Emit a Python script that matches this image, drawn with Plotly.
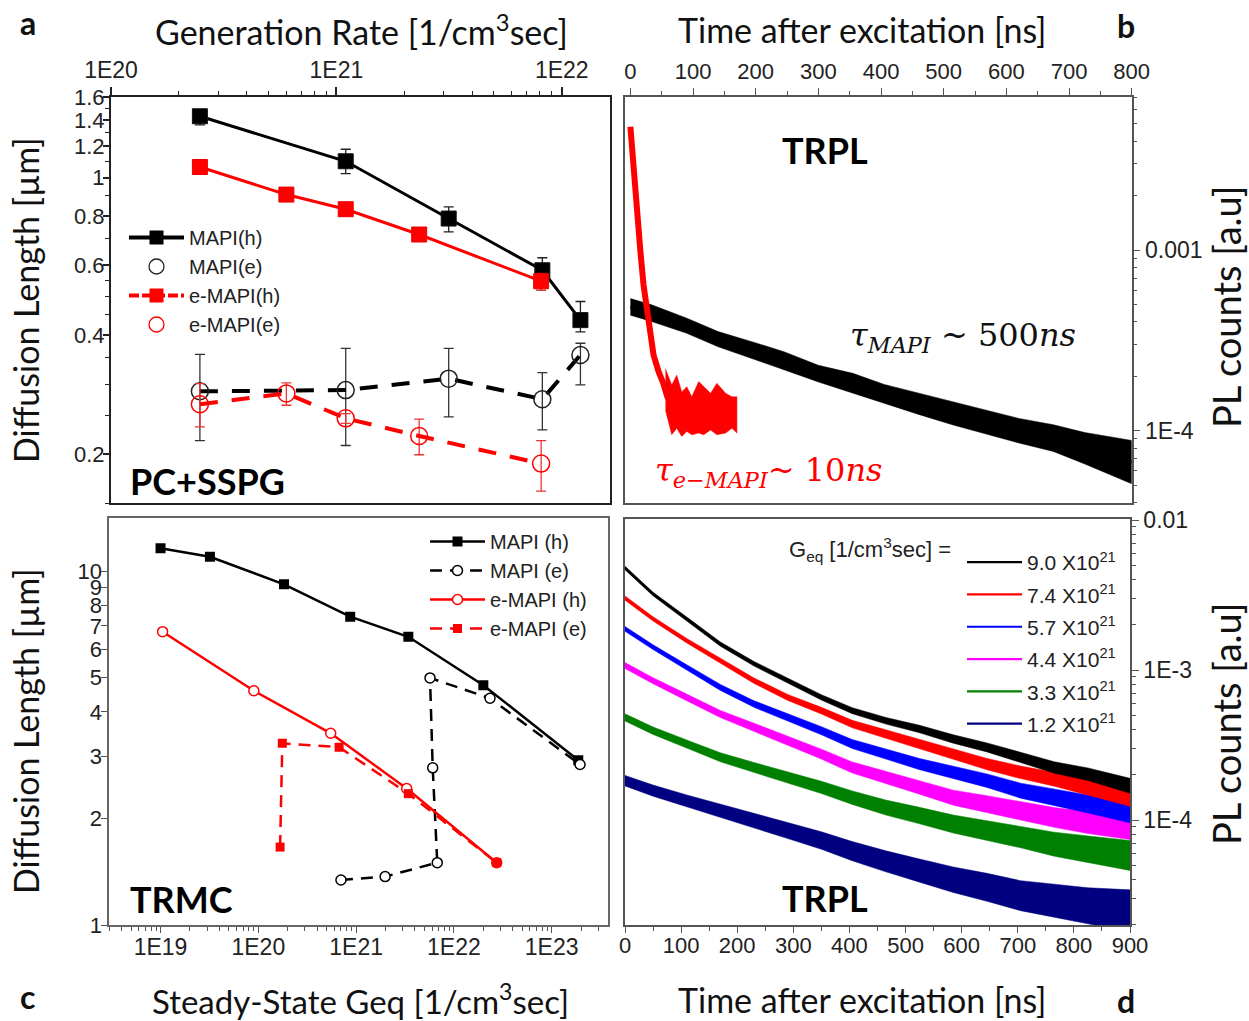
import plotly.graph_objects as go

W, H = 1249, 1021

# ---------------- Panel a : PC+SSPG ----------------
a_gen_mapi = [2.48e20, 1.10e21, 3.15e21, 8.2e21, 1.21e22]
a_mapi_h = [1.43, 1.10, 0.788, 0.583, 0.436]
a_mapi_h_up = [0.05, 0.08, 0.055, 0.044, 0.05]
a_mapi_h_dn = [0.07, 0.076, 0.059, 0.048, 0.029]
a_mapi_e = [0.288, 0.290, 0.310, 0.275, 0.356]
a_mapi_e_up = [0.069, 0.080, 0.060, 0.046, 0.025]
a_mapi_e_dn = [0.072, 0.080, 0.062, 0.045, 0.057]

a_gen_emapi = [2.48e20, 6.0e20, 1.10e21, 2.33e21, 8.1e21]
a_emapi_h = [1.064, 0.906, 0.832, 0.718, 0.547]
a_emapi_h_up = [0, 0, 0, 0, 0.025]
a_emapi_h_dn = [0, 0, 0, 0, 0.028]
a_emapi_e = [0.267, 0.2845, 0.246, 0.222, 0.189]
a_emapi_e_up = [0.034, 0.018, 0.007, 0.023, 0.027]
a_emapi_e_dn = [0.033, 0.019, 0.007, 0.023, 0.028]

a_xticks = [1e20, 1e21, 1e22]
a_xticktext = ["1E20", "1E21", "1E22"]
a_yticks = [0.2, 0.4, 0.6, 0.8, 1.0, 1.2, 1.4, 1.6]
a_yticktext = ["0.2", "0.4", "0.6", "0.8", "1", "1.2", "1.4", "1.6"]
a_yminor = [0.15, 0.25, 0.3, 0.35, 0.45, 0.5, 0.55, 0.7, 0.9, 1.1, 1.3, 1.5]

# ---------------- Panel c : TRMC ----------------
c_gen_mapi_h = [1.0e19, 3.2e19, 1.83e20, 8.7e20, 3.42e21, 2.0e22, 1.87e23]
c_mapi_h = [11.6, 10.97, 9.17, 7.43, 6.52, 4.76, 2.92]
c_gen_mapi_e = [7.0e20, 1.98e21, 6.76e21, 6.07e21, 5.7e21, 2.34e22, 1.95e23]
c_mapi_e = [1.34, 1.37, 1.50, 2.78, 4.99, 4.37, 2.84]
c_gen_emapi_h = [1.05e19, 9.0e19, 5.5e20, 3.29e21, 2.74e22]
c_emapi_h = [6.74, 4.59, 3.48, 2.43, 1.50]
c_gen_emapi_e = [1.67e20, 1.76e20, 6.7e20, 3.42e21, 2.74e22]
c_emapi_e = [1.66, 3.26, 3.18, 2.35, 1.50]

c_xticks = [1e19, 1e20, 1e21, 1e22, 1e23]
c_xticktext = ["1E19", "1E20", "1E21", "1E22", "1E23"]
c_yticks = [1, 2, 3, 4, 5, 6, 7, 8, 9, 10]
c_yticktext = ["1", "2", "3", "4", "5", "6", "7", "8", "9", "10"]

# ---------------- Panel b : TRPL (MAPI vs e-MAPI) ----------------
b_mapi_t = [0, 35, 90, 140, 195, 245, 300, 355, 405, 460, 515, 565, 620, 675, 725, 800]
b_mapi_pl = [4.85e-4, 4.46e-4, 3.81e-4, 3.21e-4, 2.79e-4, 2.44e-4, 2.07e-4, 1.83e-4,
             1.60e-4, 1.41e-4, 1.25e-4, 1.12e-4, 1.00e-4, 9.1e-5, 8.0e-5, 6.7e-5]
b_mapi_noise = [0.046, 0.046, 0.042, 0.042, 0.046, 0.05, 0.046, 0.055,
                0.052, 0.059, 0.065, 0.065, 0.068, 0.074, 0.087, 0.12]
b_emapi_t = [0, 5, 11, 16, 21, 27, 32, 37, 45, 52, 60]
b_emapi_pl = [4.82e-3, 2.72e-3, 1.50e-3, 9.8e-4, 6.4e-4, 4.56e-4, 3.24e-4, 2.62e-4, 2.12e-4,
              1.85e-4, 1.50e-4]
b_floor_t = [56, 66, 74, 82, 90, 98, 109, 117, 128, 138, 152, 162, 170]
b_floor_top = [2.2e-4, 1.79e-4, 2.03e-4, 1.64e-4, 1.75e-4, 1.54e-4, 1.87e-4, 1.75e-4,
               1.61e-4, 1.83e-4, 1.61e-4, 1.54e-4, 1.54e-4]
b_floor_bottom = [1.3e-4, 9.5e-5, 1.03e-4, 9.3e-5, 9.9e-5, 9.5e-5, 9.7e-5, 9.5e-5,
                  1.01e-4, 9.5e-5, 9.7e-5, 1.03e-4, 9.7e-5]
b_xticks = [0, 100, 200, 300, 400, 500, 600, 700, 800]
b_yticks = [1e-3, 1e-4]
b_yticktext = ["0.001", "1E-4"]

# ---------------- Panel d : TRPL vs Geq ----------------
d_t = [0, 50, 110, 170, 230, 290, 350, 405, 465, 525, 585, 645, 705, 765, 825, 900]
d_labels = ["9.0 X10<sup>21</sup>", "7.4 X10<sup>21</sup>", "5.7 X10<sup>21</sup>",
            "4.4 X10<sup>21</sup>", "3.3 X10<sup>21</sup>", "1.2 X10<sup>21</sup>"]
d_colors = ["#000000", "#ff0000", "#0000ff", "#ff00ff", "#008000", "#000080"]
d_g90 = [4.79e-3, 3.21e-3, 2.19e-3, 1.49e-3, 1.10e-3, 8.49e-4, 6.57e-4, 5.36e-4,
         4.59e-4, 4.04e-4, 3.47e-4, 3.05e-4, 2.62e-4, 2.24e-4, 2.02e-4, 1.69e-4]
d_g74 = [3.02e-3, 2.19e-3, 1.57e-3, 1.15e-3, 8.49e-4, 6.57e-4, 5.36e-4, 4.36e-4,
         3.74e-4, 3.21e-4, 2.75e-4, 2.36e-4, 2.08e-4, 1.87e-4, 1.65e-4, 1.41e-4]
d_g57 = [1.88e-3, 1.42e-3, 1.04e-3, 7.66e-4, 5.93e-4, 4.83e-4, 3.94e-4, 3.21e-4,
         2.75e-4, 2.36e-4, 2.08e-4, 1.83e-4, 1.57e-4, 1.41e-4, 1.28e-4, 1.12e-4]
d_g44 = [1.07e-3, 8.49e-4, 6.57e-4, 5.09e-4, 4.15e-4, 3.38e-4, 2.75e-4, 2.24e-4,
         1.92e-4, 1.65e-4, 1.41e-4, 1.28e-4, 1.15e-4, 1.04e-4, 9.6e-5, 8.9e-5]
d_g33 = [4.83e-4, 3.94e-4, 3.21e-4, 2.62e-4, 2.24e-4, 1.92e-4, 1.65e-4, 1.41e-4,
         1.21e-4, 1.07e-4, 9.4e-5, 8.5e-5, 7.7e-5, 6.9e-5, 6.4e-5, 5.8e-5]
d_g12 = [1.83e-4, 1.57e-4, 1.34e-4, 1.15e-4, 9.9e-5, 8.5e-5, 7.3e-5, 6.2e-5,
         5.3e-5, 4.6e-5, 4.0e-5, 3.56e-5, 3.13e-5, 2.9e-5, 2.68e-5, 2.48e-5]
d_noise90 = [0.012, 0.012, 0.013, 0.014, 0.015, 0.016, 0.018, 0.02, 0.022, 0.025, 0.028, 0.03, 0.034, 0.038, 0.042, 0.05]
d_noise74 = [0.014, 0.014, 0.015, 0.016, 0.018, 0.02, 0.022, 0.025, 0.028, 0.031, 0.034, 0.038, 0.042, 0.046, 0.05, 0.058]
d_noise57 = [0.016, 0.016, 0.018, 0.02, 0.022, 0.024, 0.027, 0.03, 0.033, 0.037, 0.041, 0.045, 0.05, 0.055, 0.06, 0.068]
d_noise44 = [0.02, 0.02, 0.022, 0.024, 0.027, 0.03, 0.033, 0.037, 0.041, 0.045, 0.05, 0.055, 0.06, 0.066, 0.072, 0.08]
d_noise33 = [0.024, 0.025, 0.027, 0.03, 0.033, 0.037, 0.041, 0.045, 0.05, 0.055, 0.06, 0.066, 0.072, 0.08, 0.088, 0.1]
d_noise12 = [0.035, 0.037, 0.04, 0.044, 0.048, 0.053, 0.058, 0.064, 0.07, 0.077, 0.085, 0.093, 0.1, 0.11, 0.12, 0.14]
d_xticks = [0, 100, 200, 300, 400, 500, 600, 700, 800, 900]
d_yticks = [1e-2, 1e-3, 1e-4]
d_yticktext = ["0.01", "1E-3", "1E-4"]


# ---------------- helpers ----------------
def xd(p0, p1):
    return [p0 / W, p1 / W]


def yd(p0, p1):
    return [1 - p1 / H, 1 - p0 / H]


def area(t, upper, lower, color, xa, ya):
    return go.Scatter(x=list(t) + list(t)[::-1], y=list(upper) + list(lower)[::-1],
                      fill="toself", fillcolor=color, mode="lines",
                      line=dict(width=0.5, color=color), hoverinfo="skip",
                      showlegend=False, xaxis=xa, yaxis=ya)


def band(t, center, spread, color, xa, ya):
    upper = [c * 10 ** s for c, s in zip(center, spread)]
    lower = [c / 10 ** s for c, s in zip(center, spread)]
    return area(t, upper, lower, color, xa, ya)


def log_minor(e0, e1):
    return [m * 10.0 ** e for e in range(e0, e1) for m in range(2, 10)]


fig = go.Figure()

# ----- panel a traces -----
A = dict(xaxis="x", yaxis="y")
fig.add_trace(go.Scatter(x=a_gen_mapi, y=a_mapi_e, mode="lines+markers",
                         line=dict(color="black", width=4, dash="18px,14px"),
                         marker=dict(symbol="circle-open", size=17, color="#222", line=dict(width=1.5)),
                         error_y=dict(type="data", symmetric=False, array=a_mapi_e_up, arrayminus=a_mapi_e_dn,
                                      color="#333", thickness=1.3, width=5),
                         showlegend=False, **A))
fig.add_trace(go.Scatter(x=a_gen_emapi, y=a_emapi_e, mode="lines+markers",
                         line=dict(color="red", width=4, dash="18px,14px"),
                         marker=dict(symbol="circle-open", size=17, color="red", line=dict(width=1.5)),
                         error_y=dict(type="data", symmetric=False, array=a_emapi_e_up, arrayminus=a_emapi_e_dn,
                                      color="#e33", thickness=1.3, width=5),
                         showlegend=False, **A))
fig.add_trace(go.Scatter(x=a_gen_mapi, y=a_mapi_h, mode="lines+markers",
                         line=dict(color="black", width=3),
                         marker=dict(symbol="square", size=15, color="black", line=dict(width=1, color="#111")),
                         error_y=dict(type="data", symmetric=False, array=a_mapi_h_up, arrayminus=a_mapi_h_dn,
                                      color="#222", thickness=1.3, width=5),
                         showlegend=False, **A))
fig.add_trace(go.Scatter(x=a_gen_emapi, y=a_emapi_h, mode="lines+markers",
                         line=dict(color="red", width=3),
                         marker=dict(symbol="square", size=15, color="red", line=dict(width=1, color="#e00")),
                         error_y=dict(type="data", symmetric=False, array=a_emapi_h_up, arrayminus=a_emapi_h_dn,
                                      color="#c00", thickness=1.3, width=5),
                         showlegend=False, **A))
# legend entries of panel a
fig.add_trace(go.Scatter(x=[None], y=[None], mode="lines+markers", name="MAPI(h)", legend="legend",
                         line=dict(color="black", width=4),
                         marker=dict(symbol="square", size=14, color="black"), **A))
fig.add_trace(go.Scatter(x=[None], y=[None], mode="markers", name="MAPI(e)", legend="legend",
                         marker=dict(symbol="circle-open", size=15, color="#222", line=dict(width=1.3)), **A))
fig.add_trace(go.Scatter(x=[None], y=[None], mode="lines+markers", name="e-MAPI(h)", legend="legend",
                         line=dict(color="red", width=4, dash="10px,3px"),
                         marker=dict(symbol="square", size=14, color="red"), **A))
fig.add_trace(go.Scatter(x=[None], y=[None], mode="markers", name="e-MAPI(e)", legend="legend",
                         marker=dict(symbol="circle-open", size=15, color="red", line=dict(width=1.3)), **A))

# ----- panel c traces -----
C = dict(xaxis="x3", yaxis="y3")
fig.add_trace(go.Scatter(x=c_gen_mapi_h, y=c_mapi_h, mode="lines+markers", name="MAPI (h)", legend="legend2",
                         line=dict(color="black", width=2.5),
                         marker=dict(symbol="square", size=10, color="black"), **C))
fig.add_trace(go.Scatter(x=c_gen_mapi_e, y=c_mapi_e, mode="lines+markers", name="MAPI (e)", legend="legend2",
                         line=dict(color="black", width=2.5, dash="12px,8px"),
                         marker=dict(symbol="circle", size=10, color="white", line=dict(width=1.5, color="black")), **C))
fig.add_trace(go.Scatter(x=c_gen_emapi_h, y=c_emapi_h, mode="lines+markers", name="e-MAPI (h)", legend="legend2",
                         line=dict(color="red", width=2.5),
                         marker=dict(symbol="circle", size=10, color="white", line=dict(width=1.5, color="red")), **C))
fig.add_trace(go.Scatter(x=c_gen_emapi_e, y=c_emapi_e, mode="lines+markers", name="e-MAPI (e)", legend="legend2",
                         line=dict(color="red", width=2.5, dash="12px,8px"),
                         marker=dict(symbol="square", size=9, color="red"), **C))

# ----- panel b traces -----
fig.add_trace(band(b_mapi_t, b_mapi_pl, b_mapi_noise, "black", "x2", "y2"))
fig.add_trace(go.Scatter(x=b_mapi_t, y=b_mapi_pl, mode="lines", line=dict(color="black", width=3),
                         showlegend=False, xaxis="x2", yaxis="y2"))
fig.add_trace(area(b_floor_t, b_floor_top, b_floor_bottom, "red", "x2", "y2"))
fig.add_trace(go.Scatter(x=b_emapi_t, y=b_emapi_pl, mode="lines", line=dict(color="red", width=6),
                         showlegend=False, xaxis="x2", yaxis="y2"))

# ----- panel d traces -----
d_series = [d_g90, d_g74, d_g57, d_g44, d_g33, d_g12]
d_noise = [d_noise90, d_noise74, d_noise57, d_noise44, d_noise33, d_noise12]
for i in reversed(range(6)):
    fig.add_trace(band(d_t, d_series[i], d_noise[i], d_colors[i], "x4", "y4"))
    fig.add_trace(go.Scatter(x=d_t, y=d_series[i], mode="lines", name=d_labels[i], legend="legend3",
                             legendgroup="g%d" % i, legendrank=i + 1,
                             line=dict(color=d_colors[i], width=2.2), xaxis="x4", yaxis="y4"))

# ---------------- layout ----------------
TF = dict(family="Liberation Sans, Arial, sans-serif", size=23, color="#222")
axis_common = dict(showgrid=False, zeroline=False, showline=True, tickfont=TF, ticks="outside",
                   automargin=False)
mirror_common = dict(showgrid=False, zeroline=False, showline=False, showticklabels=False,
                     ticks="inside", automargin=False)

layout = dict(
    template="none",
    width=W, height=H, margin=dict(l=0, r=0, t=0, b=0, pad=0),
    paper_bgcolor="white", plot_bgcolor="white",
    font=dict(family="Liberation Sans, Arial, sans-serif", color="#222"),
    # panel a
    xaxis=dict(axis_common, domain=xd(111, 610), anchor="y", side="top", type="log",
               range=[20.0, 22.214], tickmode="array", tickvals=a_xticks, ticktext=a_xticktext,
               ticklen=8, tickwidth=1.5, tickcolor="#222", linewidth=2, linecolor="#222", mirror=True,
               minor=dict(tickvals=log_minor(20, 23), ticks="outside", ticklen=4, tickwidth=1.2, tickcolor="#222")),
    yaxis=dict(axis_common, domain=yd(96.7, 503.3), anchor="x", type="log",
               range=[-0.824, 0.2048], tickmode="array", tickvals=a_yticks, ticktext=a_yticktext,
               tickfont=dict(TF, size=22), ticklabelstandoff=-6,
               ticklen=6, tickwidth=1.5, tickcolor="#222", linewidth=2, linecolor="#222", mirror=True,
               minor=dict(tickvals=a_yminor, ticks="outside", ticklen=4, tickwidth=1.2, tickcolor="#222")),
    xaxis5=dict(mirror_common, overlaying="x", anchor="y", side="bottom", type="log",
                range=[20.0, 22.214], tickmode="array", tickvals=a_xticks,
                ticklen=8, tickwidth=1.5, tickcolor="#222",
                minor=dict(tickvals=log_minor(20, 23), ticks="inside", ticklen=4, tickwidth=1.2, tickcolor="#222")),
    yaxis5=dict(mirror_common, overlaying="y", anchor="x", side="right", type="log",
                range=[-0.824, 0.2048], tickmode="array", tickvals=a_yticks,
                ticklen=7, tickwidth=1.5, tickcolor="#222",
                minor=dict(tickvals=a_yminor, ticks="inside", ticklen=4, tickwidth=1.2, tickcolor="#222")),
    # panel b
    xaxis2=dict(axis_common, domain=xd(625, 1131.7), anchor="y2", side="top",
                range=[-8.6, 800], tickmode="array", tickvals=b_xticks, tickfont=dict(TF, size=22),
                ticklen=7, tickwidth=1.2, tickcolor="#555", linewidth=1.5, linecolor="#555", mirror=True,
                minor=dict(dtick=50, ticks="outside", ticklen=4, tickwidth=1, tickcolor="#555")),
    yaxis2=dict(axis_common, domain=yd(96.7, 503.3), anchor="x2", side="right", type="log",
                range=[-4.402, -2.151], tickmode="array", tickvals=b_yticks, ticktext=b_yticktext,
                ticklen=7, tickwidth=1.2, tickcolor="#555", linewidth=1.5, linecolor="#555", mirror=True,
                minor=dict(tickvals=log_minor(-5, -2), ticks="outside", ticklen=4, tickwidth=1, tickcolor="#555")),
    # panel c
    xaxis3=dict(axis_common, domain=xd(109.3, 608.3), anchor="y3", side="bottom", type="log",
                range=[18.476, 23.579], tickmode="array", tickvals=c_xticks, ticktext=c_xticktext,
                ticklabelstandoff=-6,
                ticklen=6, tickwidth=1.2, tickcolor="#555", linewidth=2, linecolor="#666", mirror=True,
                minor=dict(tickvals=log_minor(18, 24), ticks="outside", ticklen=4, tickwidth=1, tickcolor="#555")),
    xaxis6=dict(mirror_common, overlaying="x3", anchor="y3", side="top", type="log",
                range=[18.476, 23.579], tickmode="array", tickvals=c_xticks,
                ticklen=7, tickwidth=1.2, tickcolor="#555",
                minor=dict(tickvals=log_minor(18, 24), ticks="inside", ticklen=4, tickwidth=1, tickcolor="#555")),
    yaxis3=dict(axis_common, domain=yd(518.3, 925), anchor="x3", type="log",
                range=[0, 1.149], tickmode="array", tickvals=c_yticks, ticktext=c_yticktext,
                tickfont=dict(TF, size=22), ticklabelstandoff=-5,
                ticklen=6, tickwidth=1.2, tickcolor="#555", linewidth=2, linecolor="#666", mirror=True),
    # panel d
    xaxis4=dict(axis_common, domain=xd(625, 1130), anchor="y4", side="bottom",
                range=[0, 900], tickmode="array", tickvals=d_xticks, tickfont=dict(TF, size=22),
                ticklabelstandoff=-6,
                ticklen=6, tickwidth=1.2, tickcolor="#555", linewidth=1.5, linecolor="#555", mirror=True,
                minor=dict(dtick=50, ticks="outside", ticklen=4, tickwidth=1, tickcolor="#555")),
    xaxis7=dict(mirror_common, overlaying="x4", anchor="y4", side="top",
                range=[0, 900], tickmode="array", tickvals=d_xticks,
                ticklen=7, tickwidth=1.2, tickcolor="#555",
                minor=dict(dtick=50, ticks="inside", ticklen=4, tickwidth=1, tickcolor="#555")),
    yaxis4=dict(axis_common, domain=yd(519.3, 925), anchor="x4", side="right", type="log",
                range=[-4.70, -1.995], tickmode="array", tickvals=d_yticks, ticktext=d_yticktext,
                ticklen=7, tickwidth=1.2, tickcolor="#555", linewidth=1.5, linecolor="#555", mirror=True,
                minor=dict(tickvals=log_minor(-5, -2), ticks="outside", ticklen=4, tickwidth=1, tickcolor="#555")),
    legend=dict(x=124 / W, y=1 - 218 / H, xanchor="left", yanchor="top", bgcolor="rgba(0,0,0,0)",
                font=dict(family="Liberation Sans, Arial", size=20, color="#222"), itemwidth=55),
    legend2=dict(x=425 / W, y=1 - 522 / H, xanchor="left", yanchor="top", bgcolor="rgba(0,0,0,0)",
                 font=dict(family="Liberation Sans, Arial", size=20, color="#222"), itemwidth=55),
    legend3=dict(x=962 / W, y=1 - 542 / H, xanchor="left", yanchor="top", bgcolor="rgba(0,0,0,0)",
                 font=dict(family="Liberation Sans, Arial", size=21, color="#222"), itemwidth=55,
                 tracegroupgap=2),
    showlegend=True,
)
fig.update_layout(**layout)


def ann(text, px, py, size, family="Lato", color="#111", angle=0, xanchor="center", yanchor="middle"):
    return dict(text=text, x=px / W, y=1 - py / H, xref="paper", yref="paper", showarrow=False,
                font=dict(family=family, size=size, color=color), textangle=angle,
                xanchor=xanchor, yanchor=yanchor)


annotations = [
    ann("<b>a</b>", 28, 22, 32),
    ann("<b>b</b>", 1126, 25, 32),
    ann("<b>c</b>", 28, 996, 32),
    ann("<b>d</b>", 1126, 1000, 32),
    ann("Generation Rate [1/cm<sup>3</sup>sec]", 361, 30, 34),
    ann("Time after excitation [ns]", 862, 30, 34),
    ann("Steady-State Geq [1/cm<sup>3</sup>sec]", 360, 999, 33),
    ann("Time after excitation [ns]", 862, 999, 34),
    ann("Diffusion Length [µm]", 25, 300, 34, angle=-90),
    ann("Diffusion Length [µm]", 25, 731, 34, angle=-90),
    ann("PL counts [a.u]", 1226, 307, 38, angle=-90),
    ann("PL counts [a.u]", 1226, 724, 38, angle=-90),
    ann("<b>TRPL</b>", 825, 150, 36, color="black"),
    ann("<b>TRPL</b>", 825, 898, 36, color="black"),
    ann("<b>PC+SSPG</b>", 207, 481, 36, color="black"),
    ann("<b>TRMC</b>", 182, 899, 36, color="black"),
    ann("<i>τ<sub>MAPI</sub></i> ~ 500<i>ns</i>", 848, 337, 32, family="DejaVu Serif, serif",
        xanchor="left"),
    ann("<i>τ<sub>e−MAPI</sub></i>~ 10<i>ns</i>", 653, 472, 32, family="DejaVu Serif, serif",
        color="red", xanchor="left"),
    ann("G<sub>eq</sub> [1/cm<sup>3</sup>sec] =", 870, 549, 22, family="Liberation Sans, Arial",
        color="#222"),
]
fig.update_layout(annotations=annotations)

fig.write_html("out.html")
